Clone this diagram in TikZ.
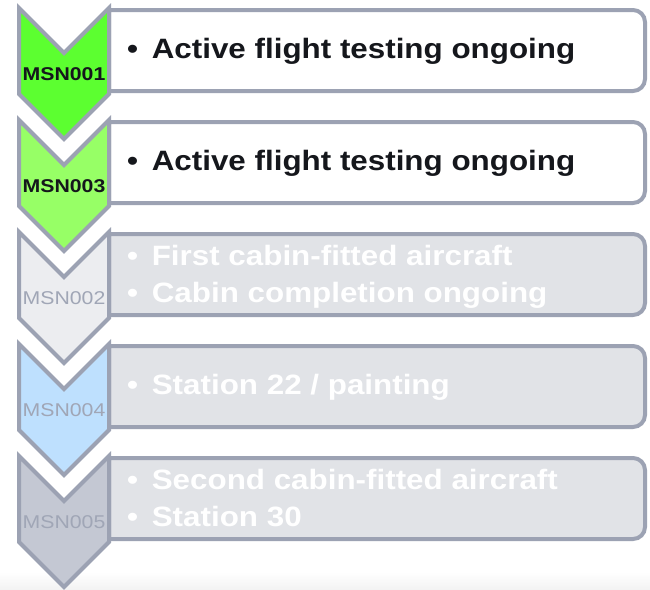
\documentclass[tikz,border=0pt]{standalone}
\usepackage{fontspec}
\setmainfont{Liberation Sans}
\definecolor{edge}{HTML}{9CA2B3}
\definecolor{greybox}{HTML}{E1E3E7}
\definecolor{darktext}{HTML}{15171C}
\definecolor{greylabel}{HTML}{A0A6B6}
\definecolor{msnA}{HTML}{5CFF30}
\definecolor{msnB}{HTML}{97FF66}
\definecolor{msnC}{HTML}{ECEDF0}
\definecolor{msnD}{HTML}{BEE0FE}
\definecolor{msnE}{HTML}{C4C8D3}
\definecolor{floor}{HTML}{F3F3F3}

% one row: chevron + right-rounded text box
% #1 top y, #2 chevron fill, #3 box fill, #4 name
\newcommand\msnrow[4]{%
  \draw[rowline, fill=#3]
    (109,#1+5) -- (633,#1+5) arc[start angle=-90, end angle=0, radius=12]
    -- (645,#1+74) arc[start angle=0, end angle=90, radius=12]
    -- (109,#1+86) -- cycle;
  \draw[rowline, fill=#2]
    (19,#1+3) -- (64,#1+48) -- (109,#1+3) -- (109,#1+89)
    -- (64,#1+134) -- (19,#1+89) -- cycle;
  \coordinate (#4) at (64,#1);
}
\newcommand\itemline[1]{\scalebox{1.12}[1]{\makebox[22pt][l]{\textbullet}#1}}
\newcommand\msnlabel[1]{\scalebox{1.15}[1]{#1}}

\begin{document}
\begin{tikzpicture}[x=1pt, y=-1pt,
  rowline/.style={draw=edge, line width=4pt, line join=miter},
  msnbold/.style={anchor=base, inner sep=0pt, text=darktext,
    font=\fontsize{18.5}{20}\selectfont\bfseries},
  msnfaint/.style={anchor=base, inner sep=0pt, text=greylabel,
    font=\fontsize{18.5}{20}\selectfont},
  itemdark/.style={anchor=base west, inner sep=0pt, text=darktext,
    font=\fontsize{28}{32}\selectfont\bfseries},
  itemfaint/.style={anchor=base west, inner sep=0pt, text=white,
    font=\fontsize{28}{32}\selectfont\bfseries}]
\useasboundingbox (0,0) rectangle (650,589);
\fill[white] (0,0) rectangle (650,589);
\shade[top color=white, bottom color=floor] (0,572) rectangle (650,589);

% MSN001
\msnrow{5}{msnA}{white}{rowA}
\node[msnbold] (labA) at (64,80) {\msnlabel{MSN001}};
\node[itemdark] (itemA) at (127,58) {\itemline{Active flight testing ongoing}};

% MSN003
\msnrow{117}{msnB}{white}{rowB}
\node[msnbold] (labB) at (64,192) {\msnlabel{MSN003}};
\node[itemdark] (itemB) at (127,170) {\itemline{Active flight testing ongoing}};

% MSN002
\msnrow{229}{msnC}{greybox}{rowC}
\node[msnfaint] (labC) at (64,304) {\msnlabel{MSN002}};
\node[itemfaint] (itemC1) at (127,265) {\itemline{First cabin-fitted aircraft}};
\node[itemfaint] (itemC2) at (127,302) {\itemline{Cabin completion ongoing}};

% MSN004
\msnrow{341}{msnD}{greybox}{rowD}
\node[msnfaint] (labD) at (64,416) {\msnlabel{MSN004}};
\node[itemfaint] (itemD) at (127,394) {\itemline{Station 22 / painting}};

% MSN005
\msnrow{453}{msnE}{greybox}{rowE}
\node[msnfaint] (labE) at (64,528) {\msnlabel{MSN005}};
\node[itemfaint] (itemE1) at (127,489) {\itemline{Second cabin-fitted aircraft}};
\node[itemfaint] (itemE2) at (127,526) {\itemline{Station 30}};
\end{tikzpicture}
\end{document}
